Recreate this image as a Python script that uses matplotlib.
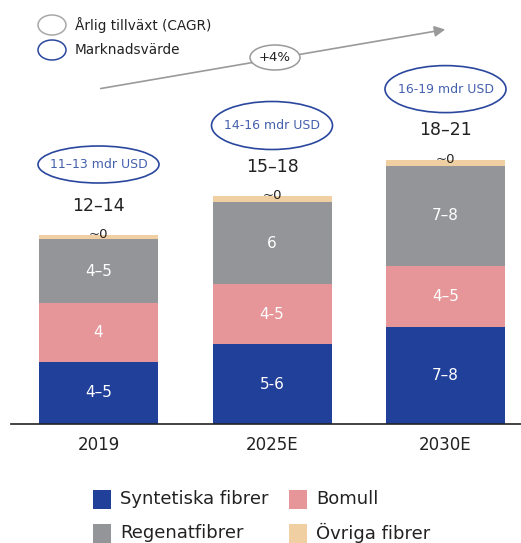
import matplotlib
matplotlib.use('Agg')
import matplotlib.pyplot as plt
from matplotlib.patches import Ellipse, Rectangle, FancyArrowPatch

plt.rcParams['font.family'] = ['DejaVu Sans']

# data (arbitrary units)
years = ['2019', '2025E', '2030E']
syntetiska = [4.8, 6.15, 7.45]
bomull = [4.5, 4.6, 4.7]
regenat = [4.9, 6.3, 7.7]
ovriga = [0.3, 0.45, 0.45]

syntetiska_lbl = ['4–5', '5-6', '7–8']
bomull_lbl = ['4', '4-5', '4–5']
regenat_lbl = ['4–5', '6', '7–8']
ovriga_lbl = ['~0', '~0', '~0']
total_lbl = ['12–14', '15–18', '18–21']
marknad_lbl = ['11–13 mdr USD', '14-16 mdr USD', '16-19 mdr USD']
cagr_lbl = '+4%'

series_names = ['Syntetiska fibrer', 'Bomull', 'Regenatfibrer', 'Övriga fibrer']
colors = ['#21409a', '#e69598', '#939598', '#f0d0a3']

W, H = 521, 543
PX_PER_UNIT = 13.0


def fx(x):
    return x / W


def fy(y):
    return 1 - y / H


fig = plt.figure(figsize=(W / 100, H / 100), dpi=100)
ax = fig.add_axes([0, fy(424), 1, 424 / H])
ax.set_ylim(0, 424 / PX_PER_UNIT)
spacing = 173.5
ax.set_xlim(-98.5 / spacing, (W - 98.5) / spacing)

x = list(range(len(years)))
bw = 119 / spacing
stack = [syntetiska, bomull, regenat, ovriga]
labels = [syntetiska_lbl, bomull_lbl, regenat_lbl, ovriga_lbl]
bottom = [0] * len(years)
for vals, lbls, c, name in zip(stack, labels, colors, series_names):
    ax.bar(x, vals, bw, bottom=bottom, color=c, label=name, linewidth=0)
    for i in x:
        if c == colors[3]:
            ax.text(i, bottom[i] + vals[i] + 0.05, lbls[i], ha='center', va='center',
                    fontsize=9.5, color='#222222')
        else:
            ax.text(i, bottom[i] + vals[i] / 2, lbls[i], ha='center', va='center',
                    fontsize=11, color='white')
    bottom = [b + v for b, v in zip(bottom, vals)]

# totals and market value ellipses
ell_h = [37, 48, 47]
for i in x:
    ax.text(i, bottom[i] + 2.3, total_lbl[i], ha='center', va='center',
            fontsize=12.5, color='#222222')
    cy = bottom[i] + 71 / PX_PER_UNIT
    ax.add_patch(Ellipse((i, cy), 121 / spacing, ell_h[i] / PX_PER_UNIT,
                         facecolor='white', edgecolor='#2a479e', lw=1.2, zorder=3))
    ax.text(i, cy, marknad_lbl[i], ha='center', va='center', fontsize=9,
            color='#4561ad', zorder=4)

for s in ax.spines.values():
    s.set_visible(False)
ax.axhline(0, xmin=11 / W, xmax=1, color='#222222', lw=1.2, clip_on=False)
ax.set_yticks([])
ax.set_xticks(x)
ax.set_xticklabels(years, fontsize=12, color='#222222')
ax.tick_params(axis='x', length=0, pad=9)

# CAGR arrow
fig.patches.append(FancyArrowPatch(
    (fx(98), fy(89)), (fx(448), fy(29)), transform=fig.transFigure,
    arrowstyle='-|>', mutation_scale=16, color='#9a9a9a', lw=1.2))
fig.patches.append(Ellipse((fx(275), fy(57.5)), 50 / W, 25 / H, transform=fig.transFigure,
                           facecolor='white', edgecolor='#9a9a9a', lw=1.1, zorder=3))
fig.text(fx(275), fy(57.5), cagr_lbl, ha='center', va='center', fontsize=9.5, color='#222222')

# top legend
fig.patches.append(Ellipse((fx(52), fy(25)), 28 / W, 20 / H, transform=fig.transFigure,
                           facecolor='white', edgecolor='#a8a8a8', lw=1.1))
fig.patches.append(Ellipse((fx(52), fy(50)), 28 / W, 20 / H, transform=fig.transFigure,
                           facecolor='white', edgecolor='#2a479e', lw=1.1))
fig.text(fx(75), fy(25), 'Årlig tillväxt (CAGR)', ha='left', va='center', fontsize=9.8, color='#222222')
fig.text(fx(75), fy(50), 'Marknadsvärde', ha='left', va='center', fontsize=9.8, color='#222222')

# bottom legend
leg_pos = [(93, 499), (289, 499), (93, 533), (289, 533)]
for (lx, ly), name, c in zip(leg_pos, series_names, colors):
    fig.patches.append(Rectangle((fx(lx), fy(ly + 9.5)), 18 / W, 19 / H,
                                 transform=fig.transFigure, facecolor=c, lw=0))
    fig.text(fx(lx + 27), fy(ly), name, ha='left', va='center', fontsize=13, color='#222222')

fig.savefig('out.png', dpi=100)
